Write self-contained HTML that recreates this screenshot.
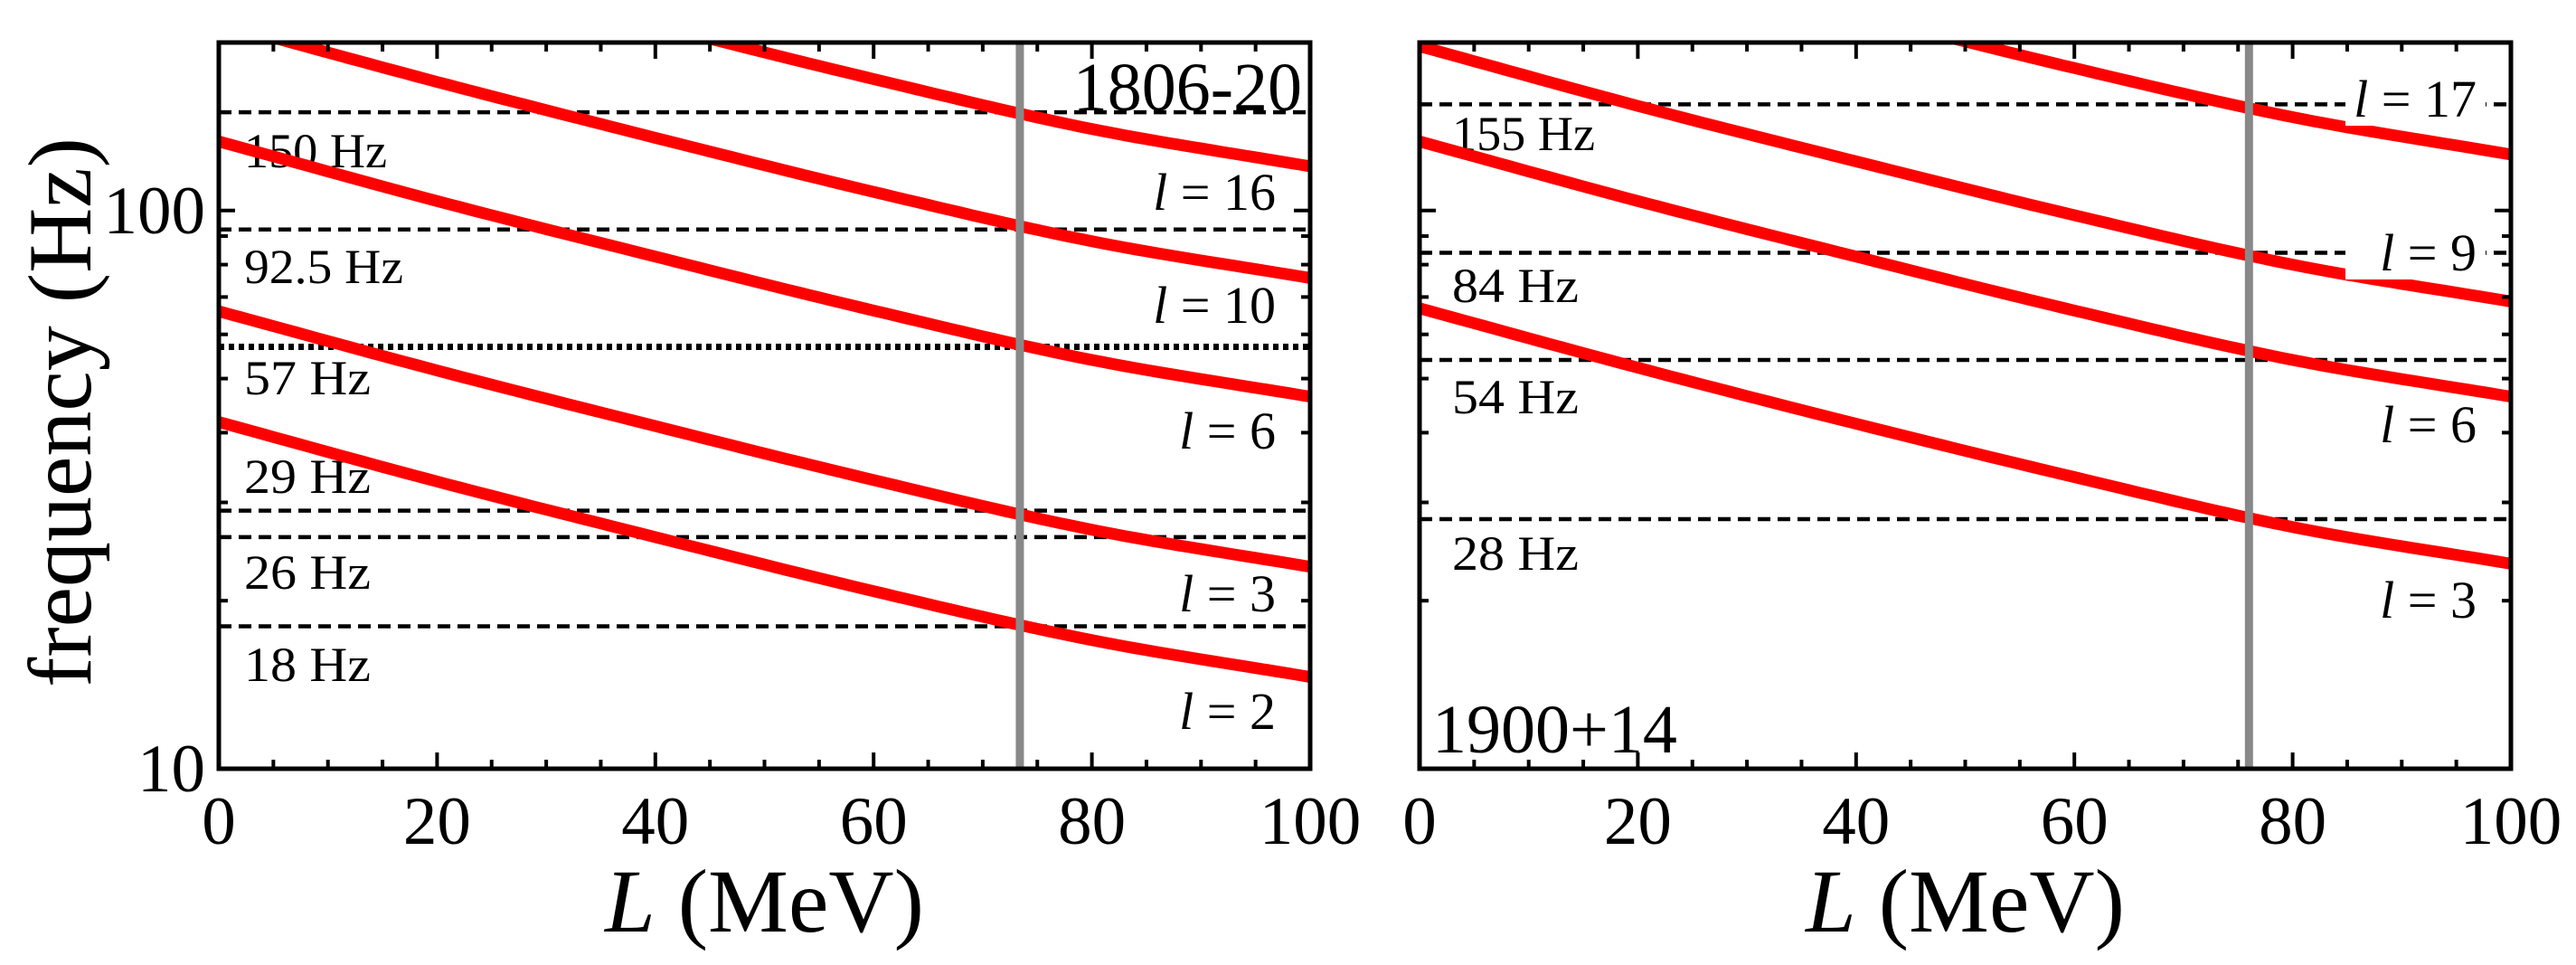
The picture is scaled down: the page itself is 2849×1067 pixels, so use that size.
<!DOCTYPE html>
<html><head><meta charset="utf-8"><style>
html,body{margin:0;padding:0;background:#fff;}
svg{display:block;}
svg text{font-family:"Liberation Serif","Times New Roman",serif;}
</style></head><body>
<svg id="chart" width="2849" height="1067" viewBox="0 0 2849 1067" xmlns="http://www.w3.org/2000/svg">
<defs>
<clipPath id="clipL"><rect x="242" y="47" width="1207" height="803"/></clipPath>
<clipPath id="clipR"><rect x="1570" y="47" width="1207" height="803"/></clipPath>
</defs>
<g id="root"></g>
</svg>
<script>
const Lgrid = [0, 20, 40, 60, 80, 100];
// left panel (SGR 1806-20)
const leftNames = ["l = 2", "l = 3", "l = 6", "l = 10", "l = 16"];
const leftL2 = [41.8, 32.7, 26.0, 20.8, 17.0, 14.6];
const leftL3 = [66, 51.7, 41.1, 32.9, 26.8, 23.0];
const leftL6 = [133, 104, 82.7, 66.2, 54.0, 46.4];
const leftL10 = [217, 170, 135, 108, 88.1, 75.7];
const leftL16 = [345, 270, 215, 172, 140, 120];
const leftObs = [150, 92.5, 57, 29, 26, 18];
const leftObsLabels = ["150 Hz", "92.5 Hz", "57 Hz", "29 Hz", "26 Hz", "18 Hz"];
const leftVLine = 73.4;
// right panel (SGR 1900+14)
const rightNames = ["l = 3", "l = 6", "l = 9", "l = 17"];
const rightL3 = [66.8, 52.3, 41.5, 33.3, 27.1, 23.3];
const rightL6 = [133, 104, 82.7, 66.2, 54.0, 46.4];
const rightL9 = [197, 154, 122.5, 98.1, 80.0, 68.7];
const rightL17 = [362, 283, 225, 180, 147, 126];
const rightObs = [155, 84, 54, 28];
const rightObsLabels = ["155 Hz", "84 Hz", "54 Hz", "28 Hz"];
const rightVLine = 76.0;
const xTicks = [0, 20, 40, 60, 80, 100];
const yTicks = [10, 100];

const NS = "http://www.w3.org/2000/svg";
const root = document.getElementById("root");
const Y0 = 850, Y1 = 47;
function yS(f){ return Y0 - (Math.log10(f) - 1) / (Math.log10(200) - 1) * (Y0 - Y1); }
function mk(tag, attrs, parent){ const e = document.createElementNS(NS, tag); for (const k in attrs) e.setAttribute(k, attrs[k]); (parent||root).appendChild(e); return e; }
// monotone cubic Hermite interpolation of log10(f) vs L
function interpFn(vals){
  const x = Lgrid, y = vals.map(v => Math.log10(v)), n = x.length;
  const d = [], m = [];
  for (let i = 0; i < n-1; i++) d.push((y[i+1]-y[i])/(x[i+1]-x[i]));
  m[0] = d[0]; m[n-1] = d[n-2];
  for (let i = 1; i < n-1; i++) m[i] = (d[i-1]*d[i] <= 0) ? 0 : (d[i-1]+d[i])/2;
  return L => {
    let i = Math.min(n-2, Math.max(0, Math.floor(L/20)));
    const h = x[i+1]-x[i], t = (L-x[i])/h;
    const h00 = 2*t*t*t-3*t*t+1, h10 = t*t*t-2*t*t+t, h01 = -2*t*t*t+3*t*t, h11 = t*t*t-t*t;
    return Math.pow(10, h00*y[i] + h10*h*m[i] + h01*y[i+1] + h11*h*m[i+1]);
  };
}

function panel(x0, clip, series, names, labelYs, obs, obsLabels, obsLabelYs, dottedIdx, vline, showY, tag, tagPos, whiteBg){
  const W = 1207;
  const xS = L => x0 + L / 100 * W;
  const g = mk("g", { });
  obs.forEach((f, i) => {
    const ln = mk("line", {x1: x0, x2: x0 + W, y1: yS(f), y2: yS(f), stroke: "#000", "stroke-width": i === dottedIdx ? 7 : 4.5, "stroke-dasharray": i === dottedIdx ? "6 5" : "14 8"}, g);
    
    
    const t = mk("text", {x: x0 + (showY ? 28 : 36), y: obsLabelYs[i], "font-size": 54, "textLength": obsLabels[i].length > 6 ? 176 : (obsLabels[i].length > 5 ? 158 : 140), "lengthAdjust": "spacingAndGlyphs"}, g);
    t.textContent = obsLabels[i];
    
    
  });
  const cg = mk("g", {"clip-path": "url(#" + clip + ")"}, g);
  series.forEach((vals, si) => {
    const fn = interpFn(vals);
    let d = "";
    for (let L = 0; L <= 100; L += 1) d += (L ? "L" : "M") + xS(L).toFixed(1) + "," + yS(fn(L)).toFixed(1);
    const p = mk("path", {d: d, fill: "none", stroke: "#ff0000", "stroke-width": 13}, cg);
    
    
  });
  const v = mk("line", {x1: xS(vline), x2: xS(vline), y1: Y1, y2: Y0, stroke: "#888", "stroke-width": 9}, g);
  
  
  names.forEach((n, i) => {
    const bx = x0 + W - 38;
    if (whiteBg[i]) mk("rect", {x: bx - 145, y: labelYs[i] - 42, width: 155, height: 52, fill: "#fff"}, g);
    const t = mk("text", {x: bx, y: labelYs[i], "font-size": 58, "text-anchor": "end"}, g);
    t.innerHTML = '<tspan font-style="italic">l</tspan> = ' + n.split(" = ")[1];
    
    
  });
  for (let L = 0; L <= 100; L += 5) {
    const len = L % 20 === 0 ? 18 : 10;
    mk("line", {x1: xS(L), x2: xS(L), y1: Y0, y2: Y0 - len, stroke: "#000", "stroke-width": 4}, g);
    mk("line", {x1: xS(L), x2: xS(L), y1: Y1, y2: Y1 + len, stroke: "#000", "stroke-width": 4}, g);
  }
  [20,30,40,50,60,70,80,90,100,200].forEach(f => {
    const len = f === 100 ? 18 : 10;
    mk("line", {x1: x0, x2: x0 + len, y1: yS(f), y2: yS(f), stroke: "#000", "stroke-width": 4}, g);
    mk("line", {x1: x0 + W, x2: x0 + W - len, y1: yS(f), y2: yS(f), stroke: "#000", "stroke-width": 4}, g);
  });
  const fr = mk("rect", {x: x0, y: Y1, width: W, height: Y0 - Y1, fill: "none", stroke: "#000", "stroke-width": 5}, g);
  
  
  xTicks.forEach(L => {
    const t = mk("text", {x: xS(L), y: 933, "font-size": 75, "text-anchor": "middle"}, g);
    t.textContent = L;
    
    
  });
  if (showY) yTicks.forEach(f => {
    const t = mk("text", {x: x0 - 15, y: yS(f) + 25, "font-size": 75, "text-anchor": "end"}, g);
    t.textContent = f;
    
    
  });
  const xt = mk("text", {x: x0 + W/2, y: 1030, "font-size": 100, "text-anchor": "middle"}, g);
  xt.innerHTML = '<tspan font-style="italic">L</tspan> (MeV)';
  
  
  const tg = mk("text", {x: tagPos[0], y: tagPos[1], "font-size": 76, "text-anchor": tagPos[2]}, g);
  tg.textContent = tag;
  
  
}

panel(242, "clipL", [leftL2, leftL3, leftL6, leftL10, leftL16], leftNames,
  [806, 676, 496, 357, 232], leftObs, leftObsLabels, [185, 313, 436, 545, 651, 753], 2, leftVLine, true,
  "1806-20", [1440, 122, "end"], [false,false,false,false,false]);
panel(1570, "clipR", [rightL3, rightL6, rightL9, rightL17], rightNames,
  [683, 489, 299, 129], rightObs, rightObsLabels, [166, 334, 457, 630], -1, rightVLine, false,
  "1900+14", [1584, 832, "start"], [false,false,true,true]);

const yt = mk("text", {x: 0, y: 0, "font-size": 100, "text-anchor": "middle", transform: "translate(100,456) rotate(-90)"});
yt.textContent = "frequency (Hz)";


</script>
</body></html>
